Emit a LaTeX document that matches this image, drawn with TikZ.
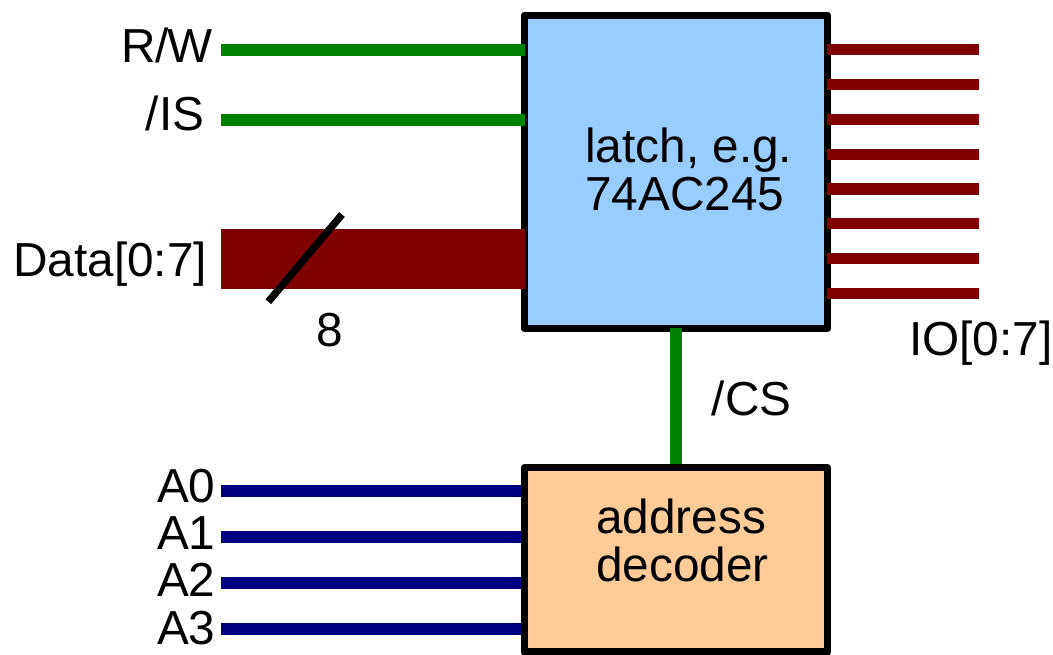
\documentclass[tikz,border=0pt]{standalone}
\usepackage{fontspec}
\setmainfont{Liberation Sans}
\definecolor{dred}{RGB}{128,0,0}
\definecolor{dgreen}{RGB}{0,128,0}
\definecolor{dblue}{RGB}{0,0,128}
\definecolor{lblue}{RGB}{153,204,255}
\definecolor{lorange}{RGB}{255,204,153}
\tikzset{x=0.75pt,y=-0.75pt,
 box/.style={draw=black,line width=5.5pt,line join=round},
 lab/.style={font=\fontsize{35.8}{36}\selectfont,inner sep=0pt,text=black},
 sigg/.style={draw=dgreen,line width=8.4pt},
 sigr/.style={draw=dred,line width=8.4pt},
 sigb/.style={draw=dblue,line width=8.4pt},
}
\begin{document}
\begin{tikzpicture}
\useasboundingbox (0,0) rectangle (1053,654);
\coordinate (rw0) at (221,50); \coordinate (rw1) at (524.5,50);
\coordinate (is0) at (221,120); \coordinate (is1) at (524.5,120);
\coordinate (d0) at (221,259.2); \coordinate (d1) at (525,259.2);
\coordinate (cs0) at (676,328.3); \coordinate (cs1) at (676,467);
\coordinate (sl0) at (268.3,301.7); \coordinate (sl1) at (342,214.5);
\path[box,fill=lblue] (524.3,15.3) rectangle (827.5,328.5);
\draw[sigg] (rw0) -- (rw1);
\draw[sigg] (is0) -- (is1);
\draw[draw=dred,line width=45.2pt] (d0) -- (d1);
\draw[sigg] (cs0) -- (cs1);
\foreach \i/\y in {0/49.8,1/84.6,2/119.4,3/154.2,4/189,5/223.8,6/258.6,7/293.4}{
  \coordinate (o\i a) at (827.3,\y); \coordinate (o\i b) at (979,\y);
  \draw[sigr] (o\i a) -- (o\i b);
}
\foreach \i/\y in {0/491,1/537,2/583,3/629}{
  \coordinate (a\i a) at (221,\y); \coordinate (a\i b) at (524,\y);
  \draw[sigb] (a\i a) -- (a\i b);
}
\draw[black,line width=5.5pt] (sl0) -- (sl1);
\path[box,fill=lorange] (524.3,467.8) rectangle (827.5,652);
\node[lab,anchor=base west] (t1) at (585,162.6) {latch, e.g.};
\node[lab,anchor=base west] (t2) at (585,210.4) {74AC245};
\node[lab,anchor=base west] (t3) at (596,533) {address};
\node[lab,anchor=base west] (t4) at (596,581) {decoder};
\node[lab,anchor=base west] (rw) at (121,62.5) {R/\kern-1.5pt W};
\node[lab,anchor=base west] (is) at (145.5,130.5) {/IS};
\node[lab,anchor=base west] (data) at (13,276) {Data[0:7]};
\node[lab,anchor=base west] (eight) at (316,346.5) {8};
\node[lab,anchor=base west] (io) at (909,355) {IO[0:7]};
\node[lab,anchor=base west] (cs) at (711.5,415.5) {/CS};
\node[lab,anchor=base west] (A0) at (156.8,502) {A0};
\node[lab,anchor=base west] (A1) at (156.8,549.5) {A1};
\node[lab,anchor=base west] (A2) at (156.8,596.5) {A2};
\node[lab,anchor=base west] (A3) at (156.8,644.5) {A3};
\end{tikzpicture}
\end{document}
